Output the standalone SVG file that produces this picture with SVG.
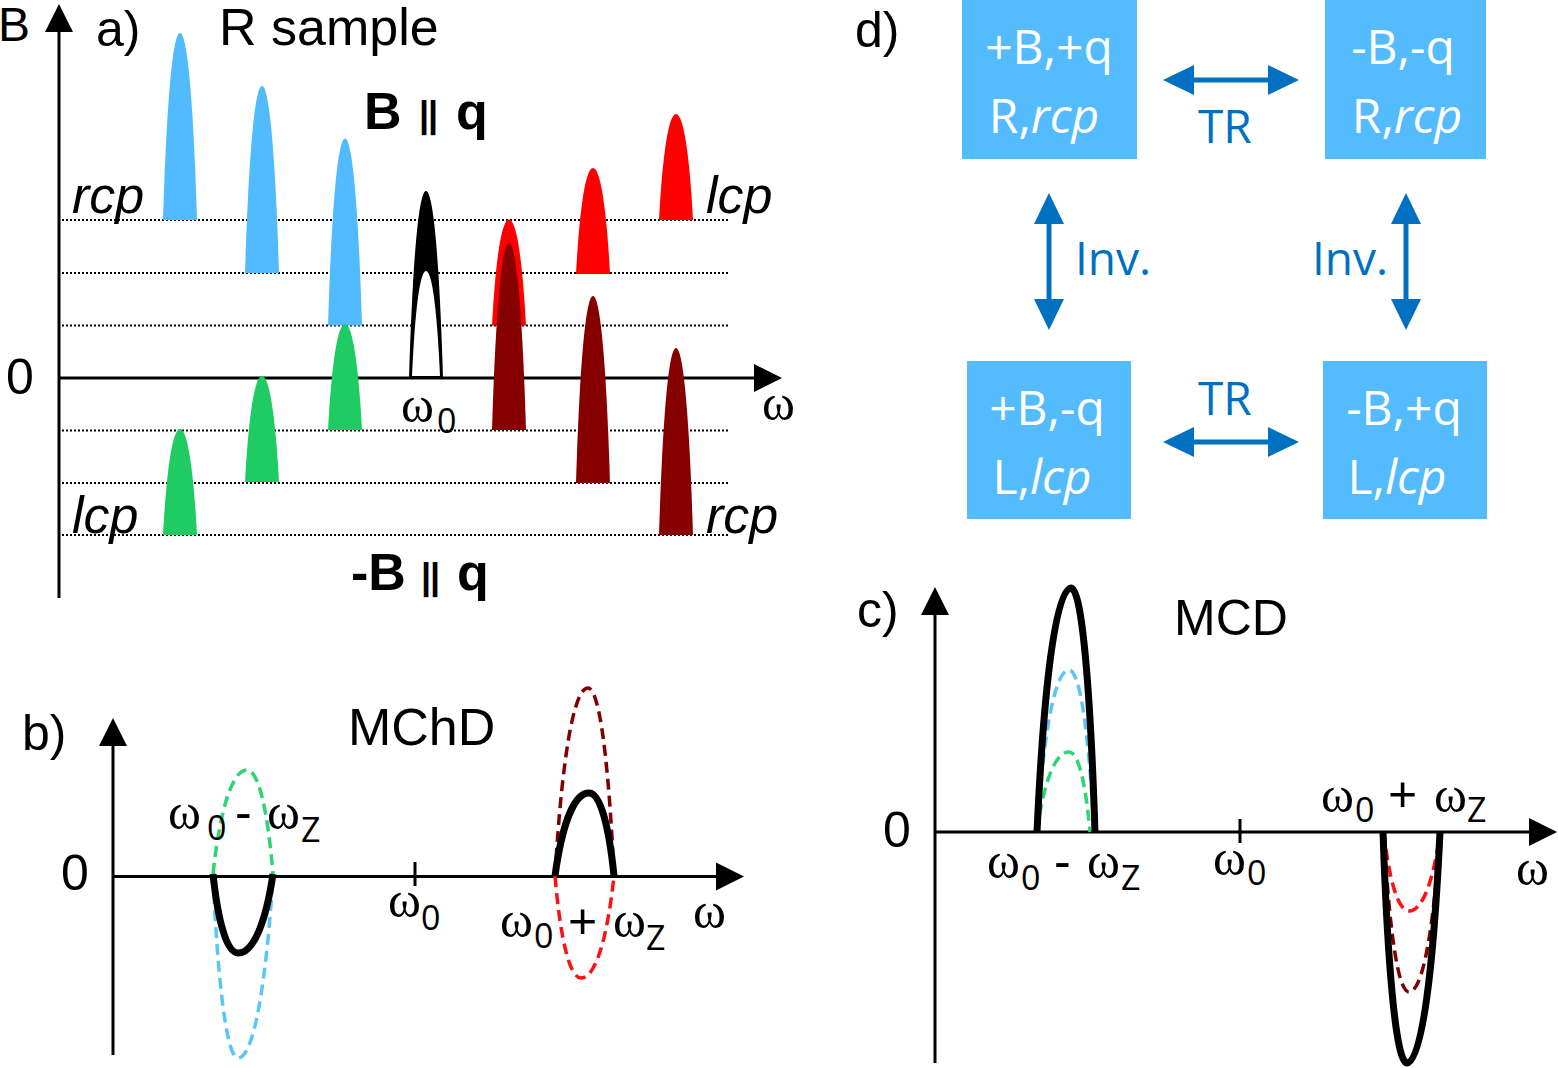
<svg xmlns="http://www.w3.org/2000/svg" width="1558" height="1068" viewBox="0 0 1558 1068">
<defs>
<style>
.t{font-family:"Liberation Sans",Arial,sans-serif;fill:#000}
.it{font-style:italic}
.bd{font-weight:bold}
.w{font-family:"Liberation Serif","Times New Roman",serif;font-size:50px;fill:#000}
.sub{font-family:"Open Sans","Noto Sans",sans-serif;font-size:34px;fill:#000}
.ax{stroke:#000;stroke-width:3;fill:none}
.dot{stroke:#000;stroke-width:2;stroke-dasharray:2 2;fill:none}
.blk{stroke:#000;stroke-width:7;fill:none}
.dsh{stroke-width:3.5;stroke-dasharray:11 6;fill:none}
.box{fill:#53BBFE}
.bt{font-family:"Open Sans","Noto Sans",sans-serif;font-size:48px;fill:#fff;text-anchor:middle}
.lab{font-family:"Open Sans","Noto Sans",sans-serif;font-size:46px;fill:#0070C0}
.arr{stroke:#0070C0;stroke-width:5;fill:none}
.lb{fill:#52BAFF}.gr{fill:#1FCC63}.rd{fill:#FF0000}.dr{fill:#870000}
</style>
<marker id="ah" markerUnits="userSpaceOnUse" markerWidth="28" markerHeight="28" refX="1" refY="14" orient="auto-start-reverse" overflow="visible"><path d="M0,0 L28,14 L0,28 Z" fill="#000"/></marker>
<marker id="bh" markerUnits="userSpaceOnUse" markerWidth="31" markerHeight="30" refX="1" refY="15" orient="auto-start-reverse" overflow="visible"><path d="M0,0 L31,15 L0,30 Z" fill="#0070C0"/></marker>
<path id="big" d="M-17,0 C-13.6,-112.2 -7.65,-187 0,-187 C7.65,-187 13.6,-112.2 17,0 Z"/>
<path id="small" d="M-17,0 C-13.6,-63.6 -7.65,-106 0,-106 C7.65,-106 13.6,-63.6 17,0 Z"/>
<path id="inner" d="M-14,0 C-11.2,-63 -6.3,-105 0,-105 C6.3,-105 11.2,-63 14,0 Z"/>
</defs>
<rect width="1558" height="1068" fill="#fff"/>

<g id="panel-a">
<g id="a-grid">
<line class="dot" x1="62" y1="220" x2="728" y2="220"/>
<line class="dot" x1="62" y1="273" x2="728" y2="273"/>
<line class="dot" x1="62" y1="325.5" x2="728" y2="325.5"/>
<line class="dot" x1="62" y1="430.5" x2="728" y2="430.5"/>
<line class="dot" x1="62" y1="483" x2="728" y2="483"/>
<line class="dot" x1="62" y1="535" x2="728" y2="535"/>
</g>
<line class="ax" x1="59" y1="598" x2="59" y2="31" marker-end="url(#ah)"/>
<line class="ax" x1="59" y1="378" x2="755" y2="378" marker-end="url(#ah)"/>
<g id="a-peaks">
<use href="#big" class="lb" x="180" y="220"/>
<use href="#big" class="lb" x="262" y="273"/>
<use href="#big" class="lb" x="345" y="325.5"/>
<use href="#small" class="gr" x="180" y="535"/>
<use href="#small" class="gr" x="262" y="482"/>
<use href="#small" class="gr" x="345" y="430"/>
<use href="#big" x="426" y="378" fill="#000"/>
<use href="#inner" x="426" y="376" fill="#fff"/>
<use href="#small" class="rd" x="509" y="325.5"/>
<use href="#small" class="rd" x="593" y="274"/>
<use href="#small" class="rd" x="676" y="220"/>
<use href="#big" class="dr" x="509" y="430"/>
<use href="#big" class="dr" x="593" y="483"/>
<use href="#big" class="dr" x="676" y="535"/>
</g>
<text class="t" x="-2" y="41" font-size="48">B</text>
<text class="t" x="96" y="46" font-size="50">a)</text>
<text class="t" x="219" y="45" font-size="52">R sample</text>
<text class="t bd" x="364" y="129" font-size="52">B</text>
<text class="t bd" x="419" y="127" font-size="36" letter-spacing="-1">||</text>
<text class="t bd" x="456" y="129" font-size="52">q</text>
<text class="t bd" x="351" y="590" font-size="52">-B</text>
<text class="t bd" x="421" y="589" font-size="36" letter-spacing="-1">||</text>
<text class="t bd" x="457" y="590" font-size="52">q</text>
<text class="t it" x="72" y="213" font-size="52">rcp</text>
<text class="t it" x="706" y="213" font-size="52">lcp</text>
<text class="t it" x="72" y="533" font-size="52">lcp</text>
<text class="t it" x="706" y="533" font-size="52">rcp</text>
<text class="t" x="6" y="394" font-size="50">0</text>
<text><tspan class="w" x="401" y="422">ω</tspan><tspan class="sub" x="437" y="433">0</tspan></text>
<text class="w" x="762" y="420">ω</text>
</g>

<g id="panel-b">
<line class="ax" x1="113" y1="1055" x2="113" y2="745" marker-end="url(#ah)"/>
<line class="ax" x1="113" y1="876.5" x2="717" y2="876.5" marker-end="url(#ah)"/>
<line class="ax" x1="415" y1="862" x2="415" y2="886"/>
<path class="dsh" stroke="#2ED573" d="M213,874 C219.8,811.6 231.7,770 247,770 C258.7,770 267.8,811.6 273,874"/>
<path class="dsh" stroke="#5BC5F7" d="M213,876 C218,985.2 226.75,1058 238,1058 C253.75,1058 266,985.2 273,876"/>
<path class="blk" d="M213,874 C218,921.4 226.75,953 238,953 C253.75,953 266,921.4 273,874"/>
<path class="dsh" stroke="#800000" d="M555,876 C561.6,763.2 573.15,688 588,688 C599.7,688 608.8,763.2 614,876"/>
<path class="dsh" stroke="#FF1010" d="M555,876 C560.2,937.2 569.3,978 581,978 C595.85,978 607.4,937.2 614,876"/>
<path class="blk" d="M555,876 C561.8,826.2 573.7,793 589,793 C600.25,793 609,826.2 614,876"/>
<text class="t" x="22" y="750" font-size="50">b)</text>
<text class="t" x="61" y="890" font-size="50">0</text>
<text class="t" x="348" y="745" font-size="52">MChD</text>
<text><tspan class="w" x="168" y="829">ω</tspan><tspan class="sub" x="207" y="840">0</tspan><tspan class="t" font-size="50" x="235" y="829">-</tspan><tspan class="w" x="267" y="829">ω</tspan><tspan class="sub" x="301" y="842">Z</tspan></text>
<text><tspan class="w" x="388" y="917">ω</tspan><tspan class="sub" x="421" y="930">0</tspan></text>
<text><tspan class="w" x="500" y="937">ω</tspan><tspan class="sub" x="534" y="948">0</tspan><tspan class="t" font-size="50" x="568" y="938">+</tspan><tspan class="w" x="613" y="937">ω</tspan><tspan class="sub" x="646" y="950">Z</tspan></text>
<text class="w" x="693" y="928">ω</text>
</g>

<g id="panel-c">
<line class="ax" x1="935" y1="1063" x2="935" y2="614" marker-end="url(#ah)"/>
<line class="ax" x1="935" y1="832" x2="1530" y2="832" marker-end="url(#ah)"/>
<line class="ax" x1="1240" y1="819" x2="1240" y2="843"/>
<path class="dsh" stroke="#5BC5F7" d="M1037,832 C1043.4,734.8 1054.6,670 1069,670 C1080.25,670 1089,734.8 1094,832"/>
<path class="dsh" stroke="#2ED573" d="M1037,832 C1043.4,784 1054.6,752 1069,752 C1078.45,752 1085.8,784 1090,832"/>
<path class="blk" stroke-width="8" d="M1037,832 C1043.8,685.6 1055.7,588 1071,588 C1081.8,588 1090.2,685.6 1095,832"/>
<path class="dsh" stroke="#FF1010" d="M1384,832 C1389,879.4 1397.75,911 1409,911 C1422.95,911 1433.8,879.4 1440,832"/>
<path class="dsh" stroke="#800000" d="M1384,832 C1389,928 1397.75,992 1409,992 C1422.95,992 1433.8,928 1440,832"/>
<path class="blk" stroke-width="8" d="M1383,832 C1387.8,970.6 1396.2,1063 1407,1063 C1421.85,1063 1433.4,970.6 1440,832"/>
<text class="t" x="857" y="627" font-size="50">c)</text>
<text class="t" x="883" y="847" font-size="50">0</text>
<text class="t" x="1174" y="635" font-size="50">MCD</text>
<text><tspan class="w" x="987" y="878">ω</tspan><tspan class="sub" x="1021" y="890">0</tspan><tspan class="t" font-size="50" x="1054" y="878">-</tspan><tspan class="w" x="1087" y="878">ω</tspan><tspan class="sub" x="1121" y="890">Z</tspan></text>
<text><tspan class="w" x="1213" y="875">ω</tspan><tspan class="sub" x="1247" y="885">0</tspan></text>
<text><tspan class="w" x="1321" y="812">ω</tspan><tspan class="sub" x="1355" y="822">0</tspan><tspan class="t" font-size="50" x="1388" y="811">+</tspan><tspan class="w" x="1434" y="812">ω</tspan><tspan class="sub" x="1467" y="822">Z</tspan></text>
<text class="w" x="1516" y="885">ω</text>
</g>

<g id="panel-d">
<text class="t" x="855" y="47" font-size="50">d)</text>
<g id="node-pBpq">
<rect class="box" x="962" y="0" width="175" height="159"/>
<text class="bt" x="1049" y="64">+B,+q</text>
<text class="bt" x="1044" y="133">R,<tspan font-style="italic">rcp</tspan></text>
</g>
<g id="node-mBmq">
<rect class="box" x="1325" y="0" width="161" height="159"/>
<text class="bt" x="1403" y="64">-B,-q</text>
<text class="bt" x="1407" y="133">R,<tspan font-style="italic">rcp</tspan></text>
</g>
<g id="node-pBmq">
<rect class="box" x="967" y="361" width="164" height="158"/>
<text class="bt" x="1047" y="425">+B,-q</text>
<text class="bt" x="1042" y="494">L,<tspan font-style="italic">lcp</tspan></text>
</g>
<g id="node-mBpq">
<rect class="box" x="1323" y="361" width="164" height="158"/>
<text class="bt" x="1404" y="425">-B,+q</text>
<text class="bt" x="1397" y="494">L,<tspan font-style="italic">lcp</tspan></text>
</g>
<g id="connectors">
<line class="arr" x1="1193" y1="80" x2="1269" y2="80" marker-start="url(#bh)" marker-end="url(#bh)"/>
<line class="arr" x1="1193" y1="442" x2="1269" y2="442" marker-start="url(#bh)" marker-end="url(#bh)"/>
<line class="arr" x1="1049" y1="223" x2="1049" y2="300" marker-start="url(#bh)" marker-end="url(#bh)"/>
<line class="arr" x1="1406" y1="223" x2="1406" y2="300" marker-start="url(#bh)" marker-end="url(#bh)"/>
<text class="lab" x="1198" y="143">TR</text>
<text class="lab" x="1198" y="415">TR</text>
<text class="lab" x="1075" y="275">Inv.</text>
<text class="lab" x="1312" y="275">Inv.</text>
</g>
</g>
</svg>
